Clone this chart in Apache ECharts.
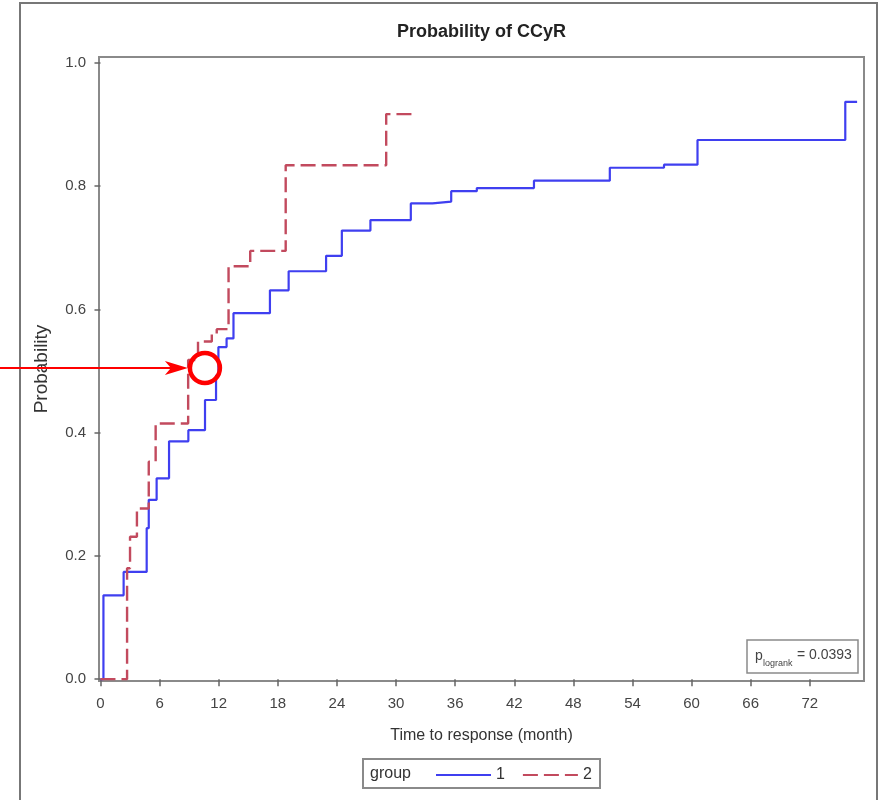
<!DOCTYPE html>
<html><head><meta charset="utf-8">
<script src="https://cdn.jsdelivr.net/npm/echarts@6/dist/echarts.min.js"></script>
<style>html,body{margin:0;padding:0;background:#fff}#c{width:880px;height:800px}</style>
</head><body><div id="c"></div>
<script>
const FONT = "'Liberation Sans',Arial,sans-serif";

const chartTitle = 'Probability of CCyR';
const xName = 'Time to response (month)';
const yName = 'Probability';
const xTicks = [0, 6, 12, 18, 24, 30, 36, 42, 48, 54, 60, 66, 72];
const yTicks = [0, 0.2, 0.4, 0.6, 0.8, 1.0];
const legendTitle = 'group';
const groupNames = ['1', '2'];
const pValueText = '= 0.0393';

const group1Time = [0, 0.3, 2.35, 4.69, 4.9, 5.7, 6.96, 8.92, 10.61, 11.73, 11.97, 12.8, 13.5, 17.2, 19.1, 22.9, 24.5, 27.4, 31.5, 33.7, 35.6, 38.2, 44.0, 51.7, 57.2, 60.6, 75.6, 76.8];
const group1Prob = [0, 0.136, 0.174, 0.245, 0.291, 0.326, 0.386, 0.404, 0.453, 0.493, 0.539, 0.553, 0.594, 0.631, 0.662, 0.687, 0.728, 0.745, 0.772, 0.775, 0.792, 0.797, 0.809, 0.830, 0.835, 0.875, 0.937, 0.937];
const group2Time = [0, 2.7, 3.0, 3.7, 4.9, 5.6, 8.9, 9.9, 11.3, 11.8, 13.0, 15.2, 18.8, 29.0, 31.8];
const group2Prob = [0, 0.180, 0.231, 0.277, 0.353, 0.415, 0.518, 0.548, 0.560, 0.568, 0.670, 0.695, 0.834, 0.917, 0.917];

const annotPoint = [10.6, 0.505];

const zip = (a, b) => a.map((v, i) => [v, b[i]]);
const BLUE = '#3f3ff0';
const RED = '#c24a5e';
const GRAY = '#8a8a8a';

const chart = echarts.init(document.getElementById('c'), null, {renderer: 'canvas'});
chart.setOption({
  animation: false,
  backgroundColor: '#fff',
  title: {
    text: chartTitle, left: 397, top: 23, padding: 0,
    textStyle: {fontFamily: FONT, fontSize: 18, fontWeight: 'bold', color: '#222'}
  },
  grid: {left: 99, right: 16, top: 57, bottom: 119, show: true, borderColor: GRAY, borderWidth: 2, backgroundColor: 'transparent'},
  xAxis: {
    type: 'value', min: -0.15, max: 77.5,
    name: xName, nameLocation: 'middle', nameGap: 47,
    nameTextStyle: {fontFamily: FONT, fontSize: 16, color: '#333'},
    axisLine: {show: false},
    axisTick: {show: true, length: 7, customValues: xTicks, lineStyle: {color: '#666', width: 1.5}},
    axisLabel: {customValues: xTicks, margin: 15, fontFamily: FONT, fontSize: 15, color: '#444'},
    splitLine: {show: false}
  },
  yAxis: {
    type: 'value', min: -0.003, max: 1.0097,
    name: yName, nameLocation: 'middle', nameGap: 48,
    nameTextStyle: {fontFamily: FONT, fontSize: 19, color: '#333'},
    axisLine: {show: false},
    axisTick: {show: true, length: 6, customValues: yTicks, lineStyle: {color: '#666', width: 1.5}},
    axisLabel: {customValues: yTicks, margin: 13, fontFamily: FONT, fontSize: 15, color: '#444',
      formatter: v => v.toFixed(1)},
    splitLine: {show: false}
  },
  legend: {
    left: 435, top: 767, itemWidth: 55, itemHeight: 14, itemGap: 17, padding: 0,
    data: groupNames,
    itemStyle: {opacity: 0},
    textStyle: {fontFamily: FONT, fontSize: 16, color: '#333'}
  },
  series: [
    {name: groupNames[0], type: 'line', step: 'end', symbol: 'none', data: zip(group1Time, group1Prob),
     lineStyle: {color: BLUE, width: 2.2}, itemStyle: {color: BLUE, opacity: 0}},
    {name: groupNames[1], type: 'line', step: 'end', symbol: 'none', data: zip(group2Time, group2Prob),
     lineStyle: {color: RED, width: 2.4, type: [15, 6]}, itemStyle: {color: RED, opacity: 0}}
  ]
});

const c = chart.convertToPixel({gridIndex: 0}, annotPoint);
const cx = c[0], cy = c[1], r = 15;
const tipX = cx - r - 2;
chart.setOption({
  graphic: [
    {type: 'rect', shape: {x: 20, y: 3, width: 857, height: 830}, style: {fill: 'none', stroke: '#777', lineWidth: 2}, silent: true},
    {type: 'rect', shape: {x: 747, y: 640, width: 111, height: 33}, style: {fill: '#fff', stroke: GRAY, lineWidth: 1.5}, z: 10},
    {type: 'text', x: 755, y: 656, z: 11, style: {text: 'p', font: "14px " + FONT, fill: '#444', verticalAlign: 'middle'}},
    {type: 'text', x: 763, y: 664, z: 11, style: {text: 'logrank', font: "9px " + FONT, fill: '#444', verticalAlign: 'middle'}},
    {type: 'text', x: 797, y: 655, z: 11, style: {text: pValueText, font: "14px " + FONT, fill: '#444', verticalAlign: 'middle'}},
    {type: 'rect', shape: {x: 363, y: 759, width: 237, height: 29}, style: {fill: 'none', stroke: GRAY, lineWidth: 2}},
    {type: 'text', x: 370, y: 774, style: {text: legendTitle, font: "16px " + FONT, fill: '#333', verticalAlign: 'middle'}},
    {type: 'line', shape: {x1: 0, y1: cy, x2: tipX - 6, y2: cy}, style: {stroke: '#ff0000', lineWidth: 2}, z: 20},
    {type: 'polygon', shape: {points: [[tipX, cy], [tipX - 23, cy - 7], [tipX - 17, cy], [tipX - 23, cy + 7]]}, style: {fill: '#ff0000'}, z: 20},
    {type: 'circle', shape: {cx: cx, cy: cy, r: r}, style: {fill: 'none', stroke: '#ff0000', lineWidth: 4.5}, z: 20}
  ]
});
</script>
</body></html>
